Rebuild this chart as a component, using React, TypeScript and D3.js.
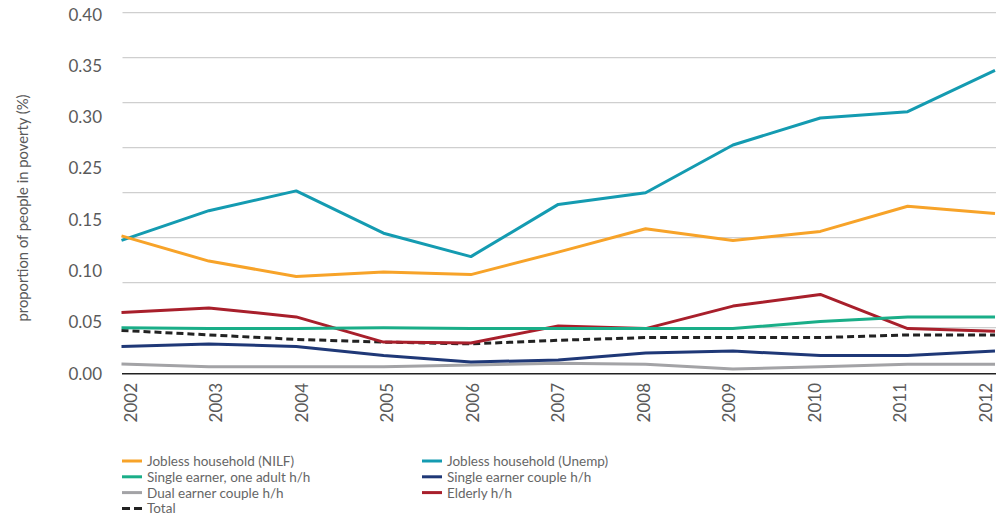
import React from "react";
import * as d3 from "d3";

// years on the x axis
const years = [2002, 2003, 2004, 2005, 2006, 2007, 2008, 2009, 2010, 2011, 2012];

// y tick labels as printed in the original (no 0.20)
const yTickLabels = ["0.00", "0.05", "0.10", "0.15", "0.25", "0.30", "0.35", "0.40"];

const joblessNilf = [0.152, 0.124, 0.107, 0.112, 0.109, 0.134, 0.16, 0.147, 0.157, 0.185, 0.177];
const joblessUnemp = [0.147, 0.18, 0.202, 0.155, 0.129, 0.187, 0.2, 0.253, 0.283, 0.29, 0.336];
const singleOneAdult = [0.05, 0.049, 0.049, 0.05, 0.049, 0.049, 0.049, 0.049, 0.057, 0.062, 0.062];
const singleCouple = [0.029, 0.032, 0.029, 0.019, 0.012, 0.014, 0.022, 0.024, 0.019, 0.019, 0.024];
const dualCouple = [0.0097, 0.0067, 0.0067, 0.0067, 0.0086, 0.0104, 0.0093, 0.0042, 0.0065, 0.0093, 0.0093];
const elderly = [0.067, 0.072, 0.062, 0.034, 0.033, 0.052, 0.049, 0.074, 0.087, 0.049, 0.046];
const total = [0.047, 0.042, 0.037, 0.034, 0.032, 0.036, 0.039, 0.039, 0.039, 0.042, 0.042];

const series = [
  { name: "Jobless household (NILF)", values: joblessNilf, color: "#f7a329", dash: "" },
  { name: "Jobless household (Unemp)", values: joblessUnemp, color: "#149bb1", dash: "" },
  { name: "Single earner, one adult h/h", values: singleOneAdult, color: "#1aae88", dash: "" },
  { name: "Single earner couple h/h", values: singleCouple, color: "#1f3877", dash: "" },
  { name: "Dual earner couple h/h", values: dualCouple, color: "#a3a3a6", dash: "" },
  { name: "Elderly h/h", values: elderly, color: "#a81f2b", dash: "" },
  { name: "Total", values: total, color: "#222222", dash: "7,4" },
];

const font = "Lato, 'Open Sans', sans-serif";

export default function App() {
  const width = 1000;
  const height = 517;

  const x = d3.scalePoint<number>().domain(years).range([121.5, 995]);
  const xLabel = d3.scalePoint<number>().domain(years).range([130, 985]);
  const y = d3.scaleLinear().domain([0, 0.4]).range([372.7, 12.7]);
  const yLabel = d3.scalePoint<string>().domain(yTickLabels).range([373, 14]);

  const line = d3
    .line<number>()
    .x((_, i) => x(years[i]) as number)
    .y((d) => y(d));

  const grid = y.ticks(8).filter((t) => t > 0);

  return (
    <svg width={width} height={height} style={{ position: "absolute", left: 0, top: 0 }}>
      <rect width={width} height={height} fill="#fff" />
      {grid.map((t) => (
        <line key={t} x1={122.5} x2={996} y1={y(t)} y2={y(t)} stroke="#cfcfcf" strokeWidth={1.3} />
      ))}
      <line x1={122} x2={996} y1={y(0) + 1} y2={y(0) + 1} stroke="#222" strokeWidth={1.5} />

      {yTickLabels.map((l) => (
        <text
          key={l}
          x={102}
          y={yLabel(l)}
          textAnchor="end"
          dominantBaseline="central"
          fontFamily={font}
          fontSize={17}
          fill="#5a5a5a"
        >
          {l}
        </text>
      ))}

      <text
        transform="translate(22,208) rotate(-90)"
        textAnchor="middle"
        dominantBaseline="central"
        fontFamily={font}
        fontSize={14.8}
        fill="#5a5a5a"
      >
        proportion of people in poverty (%)
      </text>

      {years.map((yr) => (
        <text
          key={yr}
          transform={`translate(${xLabel(yr)},383) rotate(-90)`}
          textAnchor="end"
          dominantBaseline="central"
          fontFamily={font}
          fontSize={17}
          fill="#5a5a5a"
        >
          {yr}
        </text>
      ))}

      {[...series].reverse().map((s) => (
        <path
          key={s.name}
          d={line(s.values) || ""}
          fill="none"
          stroke={s.color}
          strokeWidth={3}
          strokeDasharray={s.dash || undefined}
          strokeLinejoin="round"
        />
      ))}

      {series.map((s, i) => {
        const col = i % 2;
        const row = Math.floor(i / 2);
        const lx = 122 + col * 300;
        const ly = 461 + row * 15.8;
        return (
          <g key={s.name} transform={`translate(${lx},${ly})`}>
            <line x1={0} x2={20} y1={0} y2={0} stroke={s.color} strokeWidth={3} strokeDasharray={s.dash ? "8,4" : undefined} />
            <text x={25} y={0} dominantBaseline="central" fontFamily={font} fontSize={13.5} fill="#666">
              {s.name}
            </text>
          </g>
        );
      })}
    </svg>
  );
}
